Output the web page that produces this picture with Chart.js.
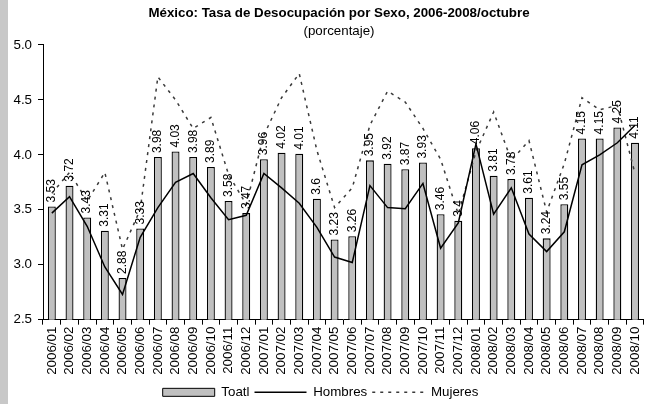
<!DOCTYPE html>
<html><head><meta charset="utf-8">
<script src="https://cdn.jsdelivr.net/npm/chart.js@4.4.1/dist/chart.umd.min.js"></script>
<style>
html,body{margin:0;padding:0;background:#fff;overflow:hidden;}
#strip{position:absolute;left:0;top:0;width:8px;height:404px;background:#c8c8c8;}
#wrap{position:absolute;left:8px;top:0;width:645px;height:404px;}
</style></head><body>
<div id="strip"></div>
<div id="wrap"><canvas id="c" width="645" height="404"></canvas></div>
<script>
const categories = ['2006/01','2006/02','2006/03','2006/04','2006/05','2006/06','2006/07','2006/08','2006/09','2006/10','2006/11','2006/12',
  '2007/01','2007/02','2007/03','2007/04','2007/05','2007/06','2007/07','2007/08','2007/09','2007/10','2007/11','2007/12',
  '2008/01','2008/02','2008/03','2008/04','2008/05','2008/06','2008/07','2008/08','2008/09','2008/10'];
const totalValues = [3.53,3.72,3.43,3.31,2.88,3.33,3.98,4.03,3.98,3.89,3.58,3.47,
  3.96,4.02,4.01,3.6,3.23,3.26,3.95,3.92,3.87,3.93,3.46,3.4,
  4.06,3.81,3.78,3.61,3.24,3.55,4.15,4.15,4.25,4.11];
const hombresValues = [3.47,3.62,3.35,2.98,2.73,3.25,3.52,3.75,3.83,3.61,3.41,3.45,
  3.83,3.70,3.56,3.34,3.07,3.02,3.72,3.52,3.51,3.74,3.15,3.38,
  4.10,3.46,3.70,3.28,3.12,3.30,3.91,4.00,4.11,4.27];
const mujeresValues = [3.65,3.84,3.58,3.84,3.14,3.50,4.71,4.50,4.24,4.34,3.82,3.55,
  4.18,4.52,4.74,4.04,3.52,3.70,4.27,4.58,4.48,4.24,3.96,3.46,
  4.03,4.39,3.95,4.13,3.48,3.92,4.52,4.41,4.45,3.83];
const seriesNames = ['Toatl','Hombres','Mujeres'];
const yTickValues = [2.5,3.0,3.5,4.0,4.5,5.0];
const titleText = 'México: Tasa de Desocupación por Sexo, 2006-2008/octubre';
const subtitleText = '(porcentaje)';

const FONT = 'Arial, "Liberation Sans", sans-serif';
Chart.defaults.font.family = FONT;
Chart.defaults.font.size = 13.33;
Chart.defaults.color = '#000';

const valueLabels = {
  id: 'valueLabels',
  afterDatasetsDraw(chart) {
    const meta = chart.getDatasetMeta(0);
    const vals = chart.data.datasets[0].data;
    const ctx = chart.ctx;
    ctx.save();
    ctx.font = '12px ' + FONT;
    ctx.fillStyle = '#000';
    ctx.textAlign = 'left';
    ctx.textBaseline = 'middle';
    meta.data.forEach((bar, i) => {
      ctx.save();
      ctx.translate(bar.x, bar.y - 4);
      ctx.rotate(-Math.PI / 2);
      ctx.fillText(String(vals[i]), 0, 0);
      ctx.restore();
    });
    ctx.restore();
  }
};

const shiftBoxes = {
  id: 'shiftBoxes',
  afterLayout(chart) {
    chart.boxes.forEach(b => {
      if (b.options && (b.options.text === titleText || b.options.text === subtitleText)) {
        b.left += 17;
      }
    });
    if (chart.legend) {
      chart.legend.left -= 20;
      chart.legend.top += 5;
      chart.legend.bottom += 5;
    }
  }
};

new Chart(document.getElementById('c'), {
  data: {
    labels: categories,
    datasets: [
      { type: 'bar', label: seriesNames[0], data: totalValues, backgroundColor: '#c0c0c0', borderColor: '#000',
        borderWidth: 1.3, barPercentage: 0.45, categoryPercentage: 1, order: 3 },
      { type: 'line', label: seriesNames[1], data: hombresValues, borderColor: '#000', borderWidth: 1.5,
        pointRadius: 0, tension: 0, fill: false, order: 1 },
      { type: 'line', label: seriesNames[2], data: mujeresValues, borderColor: '#3a3a3a', borderWidth: 1.5,
        borderDash: [3, 5], pointRadius: 0, tension: 0, fill: false, order: 2 }
    ]
  },
  options: {
    responsive: false, animation: false, devicePixelRatio: 1,
    layout: { padding: 0 },
    plugins: {
      title: { display: true, text: titleText, color: '#000', font: { weight: 'bold', size: 13.33 }, padding: { top: 5, bottom: 2 } },
      subtitle: { display: true, text: subtitleText, color: '#000', font: { size: 13.33 }, padding: { top: 0, bottom: 6 } },
      legend: {
        position: 'bottom',
        labels: {
          usePointStyle: true, boxWidth: 52, boxHeight: 8, pointStyleWidth: 52, padding: 5, color: '#000',
          font: { size: 13.33 },
          generateLabels(chart) {
            const ds = chart.data.datasets;
            return [
              { text: ds[0].label, fillStyle: '#c0c0c0', strokeStyle: '#000', lineWidth: 1, pointStyle: 'rect', datasetIndex: 0, fontColor: '#000' },
              { text: ds[1].label, fillStyle: '#000', strokeStyle: '#000', lineWidth: 1.5, pointStyle: 'line', datasetIndex: 1, fontColor: '#000' },
              { text: ds[2].label, fillStyle: '#3a3a3a', strokeStyle: '#3a3a3a', lineWidth: 1.5, lineDash: [3, 5], pointStyle: 'line', datasetIndex: 2, fontColor: '#000' }
            ];
          }
        }
      },
      tooltip: { enabled: false }
    },
    scales: {
      x: {
        grid: { display: true, drawOnChartArea: false, offset: true, tickLength: 5, color: '#000' },
        border: { display: true, color: '#000', width: 1 },
        ticks: { minRotation: 90, maxRotation: 90, autoSkip: false, color: '#000', padding: 2, font: { size: 13.33 } },
        afterFit(s) { s.height = 56; }
      },
      y: {
        min: 2.5, max: 5.0,
        afterBuildTicks(s) { s.ticks = yTickValues.map(v => ({ value: v })); },
        grid: { display: true, drawOnChartArea: false, tickLength: 5, color: '#000' },
        border: { display: true, color: '#000', width: 1 },
        ticks: { color: '#000', padding: 6, font: { size: 13.33 }, callback: v => Number(v).toFixed(1) },
        afterFit(s) { s.width = 35; }
      }
    }
  },
  plugins: [valueLabels, shiftBoxes]
});
</script>
</body></html>
